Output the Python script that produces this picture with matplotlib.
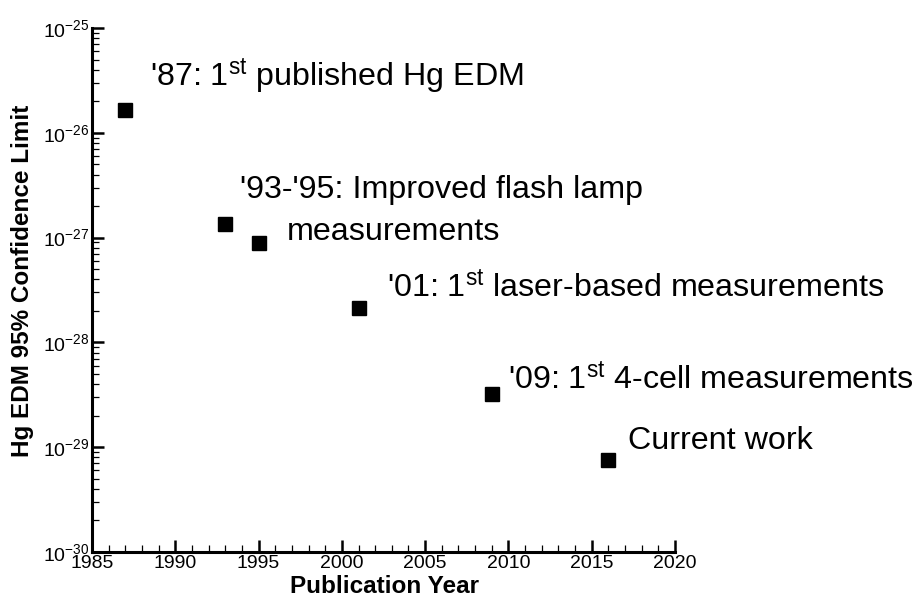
import matplotlib
matplotlib.use("Agg")
import matplotlib.pyplot as plt
from matplotlib.ticker import MultipleLocator, LogLocator, NullFormatter, FuncFormatter
import numpy as np

plt.rcParams["font.family"] = ["Liberation Sans", "DejaVu Sans"]
plt.rcParams["mathtext.fontset"] = "custom"
plt.rcParams["mathtext.rm"] = "Liberation Sans"
plt.rcParams["mathtext.it"] = "Liberation Sans:italic"
plt.rcParams["mathtext.bf"] = "Liberation Sans:bold"

# Hg EDM limits by publication year
years = [1987, 1993, 1995, 2001, 2009, 2016]
limits = [1.67e-26, 1.34e-27, 8.9e-28, 2.13e-28, 3.2e-29, 7.55e-30]

# annotation text: (x, baseline y, label)
note_x = [1988.5, 1993.9, 1996.7, 2002.7, 2010.0, 2017.2]
note_y = [2.75e-26, 2.39e-27, 9.5e-28, 2.65e-28, 3.52e-29, 9.6e-30]
note_text = [
    "'87: 1$^{\\mathrm{st}}$ published Hg EDM",
    "'93-'95: Improved flash lamp",
    "measurements",
    "'01: 1$^{\\mathrm{st}}$ laser-based measurements",
    "'09: 1$^{\\mathrm{st}}$ 4-cell measurements",
    "Current work",
]

fig = plt.figure(figsize=(9.23, 5.98), dpi=100)
ax = fig.add_axes([0.0997, 0.077, 0.6316, 0.876])

ax.plot(years, limits, "s", color="black", markersize=9.5, linestyle="none")

ax.set_yscale("log")
ax.set_xlim(1985, 2020)
ax.set_ylim(1e-30, 1e-25)

ax.xaxis.set_major_locator(MultipleLocator(5))
ax.xaxis.set_minor_locator(MultipleLocator(1))
ax.yaxis.set_major_locator(LogLocator(base=10, numticks=10))
ax.yaxis.set_minor_locator(LogLocator(base=10, subs=range(2, 10), numticks=20))
ax.yaxis.set_minor_formatter(NullFormatter())
ax.yaxis.set_major_formatter(
    FuncFormatter(lambda v, p: "$10^{%d}$" % int(round(np.log10(v)))))

for side in ("top", "right"):
    ax.spines[side].set_visible(False)
for side in ("left", "bottom"):
    ax.spines[side].set_linewidth(2.2)

ax.tick_params(which="major", direction="in", length=8.5, width=1.8,
               labelsize=14, pad=2)
ax.tick_params(which="minor", direction="in", length=5, width=0.9)

ax.set_xlabel("Publication Year", fontsize=17.5, fontweight="bold")
ax.set_ylabel("Hg EDM 95% Confidence Limit", fontsize=17.5, fontweight="bold")
ax.xaxis.set_label_coords(0.501, -0.044)
ax.yaxis.set_label_coords(-0.100, 0.517)

for x, y, s in zip(note_x, note_y, note_text):
    ax.text(x, y, s, fontsize=23.2, ha="left", va="baseline", clip_on=False)

fig.savefig("out.png", dpi=100, facecolor="white")
